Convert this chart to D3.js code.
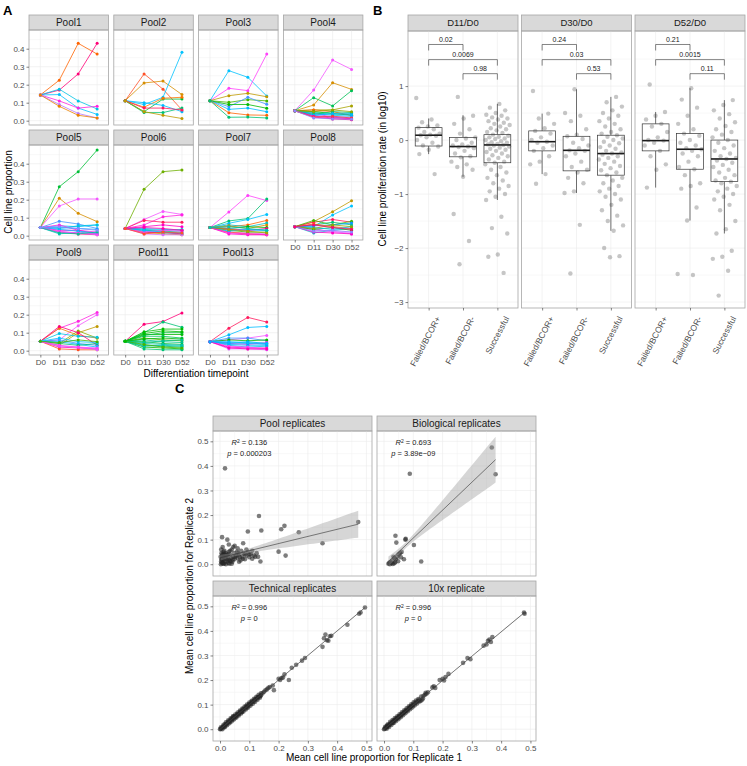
<!DOCTYPE html>
<html>
<head>
<meta charset="utf-8">
<script src="https://cdn.jsdelivr.net/npm/d3@7"></script>
<style>
body { margin: 0; background: #fff; }
text { font-family: "Liberation Sans", Arial, sans-serif; }
</style>
</head>
<body>
<svg id="fig" width="747" height="766"></svg>
<script>
// ---------- Panel A data: [cell line colour id, D0, D11, D30, D52]
const timepoints = ["D0", "D11", "D30", "D52"];
const poolNames = ["Pool1", "Pool2", "Pool3", "Pool4", "Pool5", "Pool6", "Pool7", "Pool8", "Pool9", "Pool11", "Pool13"];
const pool1 = [[4,.143,.225,.43,.37],[0,.143,.17,.26,.43],[21,.143,.175,.11,.065],[23,.143,.145,.07,.035],
  [36,.143,.11,.07,.08],[32,.143,.09,.04,.015],[6,.143,.08,.03,.015]];
const pool2 = [[3,.111,.26,.175,.06],[7,.111,.21,.22,.145],[22,.111,.09,.13,.38],[15,.111,.05,.12,.12],
  [17,.111,.045,.045,.07],[5,.111,.075,.125,.13],[24,.111,.1,.085,.05],[1,.111,.07,.07,.06],[8,.111,.05,.03,.012]];
const pool3 = [[22,.111,.278,.241,.137],[35,.111,.18,.167,.37],[8,.111,.139,.152,.133],[12,.111,.102,.117,.11],
  [30,.111,.078,.13,.091],[13,.111,.09,.09,.069],[25,.111,.063,.07,.05],[4,.111,.044,.032,.03],[17,.111,.019,.02,.015]];
const pool4 = [[34,.055,.17,.337,.285],[7,.055,.087,.211,.174],[16,.055,.128,.082,.167],[9,.055,.06,.06,.082],
  [4,.055,.06,.05,.03],[36,.055,.04,.02,.01],[13,.055,.05,.04,.03],[23,.055,.04,.03,.025],[30,.055,.03,.02,.02],
  [0,.055,.02,.01,.005],[20,.055,.045,.035,.04],[17,.055,.035,.05,.045],[26,.055,.03,.04,.035],
  [38,.055,.025,.015,.012],[10,.055,.05,.06,.05],[2,.055,.02,.025,.015],[31,.055,.015,.01,.008]];
const pool5 = [[15,.045,.272,.356,.476],[7,.045,.208,.124,.078],[34,.045,.165,.204,.204],[30,.045,.08,.065,.04],
  [23,.045,.055,.05,.06],[21,.045,.04,.055,.06],[36,.045,.06,.03,.02],[37,.045,.03,.03,.01],[0,.045,.02,.01,.005],
  [20,.045,.01,.02,.01],[28,.045,.045,.04,.035],[33,.045,.02,.015,.005],[24,.045,.035,.025,.015],
  [35,.045,.025,.015,.01],[18,.045,.015,.01,.02],[31,.045,.05,.04,.03]];
const pool6 = [[11,.04,.258,.356,.365],[34,.04,.09,.135,.118],[36,.04,.06,.105,.115],[1,.04,.085,.075,.075],
  [37,.04,.05,.06,.05],[22,.04,.04,.035,.03],[20,.04,.035,.03,.035],[17,.04,.03,.025,.02],[30,.04,.025,.015,.01],
  [8,.04,.02,.01,.005],[0,.04,.015,.02,.01],[33,.04,.01,.005,.005],[35,.04,.02,.03,.025],[25,.04,.03,.02,.015],
  [38,.04,.045,.04,.03],[3,.04,.01,.02,.015]];
const pool7 = [[35,.045,.132,.224,.195],[17,.045,.082,.095,.204],[22,.045,.069,.09,.118],[4,.045,.05,.06,.085],
  [20,.045,.06,.05,.07],[7,.045,.055,.04,.06],[13,.045,.04,.05,.045],[30,.045,.04,.03,.03],[34,.045,.02,.015,.01],
  [5,.045,.02,.01,.005],[12,.045,.03,.02,.02],[37,.045,.01,.005,.005],[0,.045,.035,.03,.04],[24,.045,.025,.035,.03],
  [36,.045,.015,.01,.005],[9,.045,.035,.025,.015],[19,.045,.05,.04,.03]];
const pool8 = [[8,.05,.078,.133,.194],[22,.05,.05,.115,.165],[1,.05,.075,.09,.075],[12,.05,.085,.06,.08],
  [17,.05,.06,.075,.06],[29,.05,.055,.06,.07],[20,.05,.015,.03,.04],[35,.05,.04,.02,.02],[33,.05,.03,.025,.01],
  [4,.05,.065,.05,.04],[14,.05,.035,.045,.03],[25,.05,.045,.035,.05],[37,.05,.02,.015,.01],[10,.05,.04,.06,.05],
  [31,.05,.025,.03,.02],[0,.05,.06,.045,.035]];
const pool9 = [[36,.052,.125,.163,.212],[34,.052,.06,.139,.2],[6,.052,.125,.085,.07],[8,.052,.03,.1,.135],
  [10,.052,.04,.11,.07],[21,.052,.095,.08,.075],[0,.052,.135,.1,.03],[30,.052,.06,.04,.03],[24,.052,.05,.035,.02],
  [37,.052,.02,.015,.01],[3,.052,.01,.005,.005],[17,.052,.04,.03,.04],[33,.052,.025,.02,.005],
  [35,.052,.03,.02,.015],[22,.052,.07,.05,.045],[12,.052,.045,.06,.05]];
const pool11 = [[0,.052,.147,.162,.21],[17,.052,.1,.16,.13],[14,.052,.105,.12,.12],[13,.052,.09,.09,.09],
  [16,.052,.08,.08,.07],[12,.052,.07,.06,.055],[18,.052,.06,.05,.045],[15,.052,.05,.04,.035],[19,.052,.04,.035,.03],
  [16,.052,.03,.025,.02],[14,.052,.02,.015,.01],[17,.052,.01,.005,.005],[13,.052,.065,.07,.065],
  [18,.052,.045,.055,.06],[15,.052,.085,.1,.1],[19,.052,.025,.03,.025],[12,.052,.035,.02,.015],[14,.052,.095,.11,.105]];
const pool13 = [[1,.05,.125,.185,.159],[24,.05,.088,.129,.135],[34,.05,.06,.07,.085],[30,.05,.07,.07,.055],
  [13,.05,.06,.055,.06],[36,.05,.04,.035,.045],[25,.05,.035,.03,.03],[21,.05,.03,.02,.025],[37,.05,.02,.015,.015],
  [33,.05,.01,.01,.005],[29,.05,.045,.04,.035],[35,.05,.025,.02,.01],[23,.05,.05,.045,.04],[38,.05,.015,.01,.01],
  [26,.05,.04,.05,.04]];
const poolLines = [pool1, pool2, pool3, pool4, pool5, pool6, pool7, pool8, pool9, pool11, pool13];

// ---------- Panel B data
const ratios = ["D11/D0", "D30/D0", "D52/D0"];
const groups = ["Failed/BCOR+", "Failed/BCOR-", "Successful"];
// box stats per ratio, per group
const boxQ1  = [[-0.11, -0.31, -0.42], [-0.20, -0.57, -0.65], [-0.20, -0.54, -0.77]];
const boxMed = [[0.09, -0.12, -0.09], [-0.03, -0.19, -0.25], [-0.01, -0.17, -0.35]];
const boxQ3  = [[0.23, 0.05, 0.10], [0.17, 0.07, 0.09], [0.30, 0.12, 0.00]];
const whiskLo = [[-0.26, -0.68, -1.11], [-0.63, -0.98, -1.68], [-0.88, -1.49, -1.73]];
const whiskHi = [[0.40, 0.46, 0.67], [0.49, 0.94, 0.80], [0.52, 0.96, 0.74]];
const d11Plus = [0.78,0.38,0.33,0.27,0.25,0.23,0.2,0.15,0.12,0.1,0.09,0.08,0.05,0,-0.05,-0.1,-0.12,-0.18,-0.26,-0.63];
const d11Minus = [0.8,0.45,0.4,0.3,0.2,0.12,0.05,0.03,0,-0.05,-0.08,-0.1,-0.12,-0.13,-0.15,-0.2,-0.25,-0.3,-0.32,-0.4,
  -0.45,-0.5,-0.55,-0.68,-1.37,-1.87,-2.3];
const d11Succ = [0.67,0.6,0.55,0.5,0.47,0.45,0.42,0.4,0.38,0.35,0.32,0.3,0.28,0.25,0.22,0.2,0.18,0.15,0.13,0.1,0.08,
  0.06,0.05,0.03,0.02,0,-0.02,-0.04,-0.05,-0.07,-0.08,-0.09,-0.1,-0.12,-0.14,-0.16,-0.18,-0.2,-0.22,-0.25,-0.28,-0.3,
  -0.33,-0.36,-0.4,-0.42,-0.45,-0.5,-0.55,-0.6,-0.65,-0.7,-0.75,-0.8,-0.85,-0.9,-0.95,-1,-1.05,-1.11,-1.42,-1.63,-1.73,
  -2.12,-2.16,-2.46];
const d30Plus = [0.91,0.49,0.4,0.3,0.22,0.17,0.12,0.05,0,-0.03,-0.05,-0.1,-0.15,-0.2,-0.3,-0.4,-0.45,-0.63,-0.81];
const d30Minus = [0.94,0.5,0.45,0.35,0.2,0.1,0.07,0.02,-0.05,-0.1,-0.15,-0.19,-0.2,-0.25,-0.3,-0.4,-0.5,-0.55,-0.6,
  -0.7,-0.8,-0.95,-0.98,-1.57,-2.47];
const d30Succ = [0.8,0.7,0.62,0.55,0.5,0.45,0.4,0.35,0.3,0.25,0.2,0.15,0.12,0.09,0.06,0.03,0,-0.03,-0.06,-0.1,-0.13,
  -0.16,-0.2,-0.23,-0.25,-0.27,-0.3,-0.33,-0.36,-0.4,-0.44,-0.48,-0.52,-0.56,-0.6,-0.65,-0.7,-0.75,-0.8,-0.85,-0.9,
  -0.95,-1,-1.05,-1.1,-1.2,-1.3,-1.4,-1.5,-1.58,-1.68,-2,-2.15,-2.17];
const d52Plus = [1.03,0.52,0.45,0.38,0.3,0.25,0.15,0.05,0,-0.01,-0.05,-0.1,-0.2,-0.3,-0.45,-0.55,-0.88];
const d52Minus = [0.96,0.75,0.6,0.45,0.3,0.2,0.12,0.08,0,-0.05,-0.1,-0.15,-0.17,-0.2,-0.25,-0.3,-0.4,-0.5,-0.54,
  -0.65,-0.8,-0.85,-0.9,-1.25,-1.49,-2.48,-2.5];
const d52Succ = [0.74,0.65,0.55,0.48,0.4,0.33,0.26,0.2,0.15,0.1,0.05,0,-0.05,-0.1,-0.15,-0.2,-0.25,-0.3,-0.33,-0.35,
  -0.38,-0.42,-0.46,-0.5,-0.55,-0.6,-0.65,-0.7,-0.75,-0.77,-0.8,-0.85,-0.9,-0.95,-1,-1.05,-1.1,-1.2,-1.3,-1.5,-1.65,
  -1.73,-2.05,-2.16,-2.2,-2.42,-2.88];
const ratioPoints = [[d11Plus, d11Minus, d11Succ], [d30Plus, d30Minus, d30Succ], [d52Plus, d52Minus, d52Succ]];
const compPairs = [[0, 1], [0, 2], [1, 2]];
const compY = [1.77, 1.49, 1.23];
const compLabels = [["0.02", "0.0069", "0.98"], ["0.24", "0.03", "0.53"], ["0.21", "0.0015", "0.11"]];

// ---------- Panel C data: [replicate 1, replicate 2]
const repNames = ["Pool replicates", "Biological replicates", "Technical replicates", "10x replicate"];
const poolRep = [[0.017,0.39],[0.133,0.196],[0.095,0.133],[0.141,0.137],[0.209,0.142],[0.22,0.156],[0.269,0.13],
  [0.472,0.172],[0.007,0.11],[0.35,0.085],[0.2,0.051],[0.224,0.035],[0.138,0.011],[0.079,0.085],[0.002,0.03],
  [0.005,0.02],[0.008,0.04],[0.01,0.005],[0.012,0.025],[0.015,0.035],[0.018,0.01],[0.02,0.045],[0.022,0.02],
  [0.025,0.03],[0.028,0.005],[0.03,0.05],[0.033,0.015],[0.035,0.038],[0.038,0.025],[0.04,0.06],[0.042,0.01],
  [0.045,0.03],[0.048,0.045],[0.05,0.02],[0.055,0.035],[0.058,0.05],[0.06,0.025],[0.065,0.04],[0.07,0.015],
  [0.072,0.055],[0.075,0.03],[0.08,0.045],[0.085,0.02],[0.09,0.035],[0.095,0.05],[0.1,0.028],[0.105,0.04],
  [0.11,0.022],[0.12,0.03],[0.003,0],[0.006,0.008],[0.01,0.015],[0.014,0.003],[0.02,0],[0.026,0.012],[0.032,0.002],
  [0.004,0.06],[0.009,0.07],[0.015,0.055],[0.03,0.08],[0.045,0.07],[0.06,0.065],[0.025,0.1],[0.05,0.075],
  [0.11,0.055],[0.125,0.045],[0.09,0.06],[0.065,0.01],[0.04,0.002],[0.01,0.03],[0.018,0.028],[0.007,0.018],
  [0.005,0.045],[0.012,0.05],[0.02,0.035],[0.028,0.04],[0.035,0.055],[0.008,0.025],[0.016,0.022],[0.024,0.038],
  [0.012,0.002],[0.03,0.02],[0.036,0.012],[0.044,0.018],[0.052,0.03],[0.062,0.045],[0.068,0.028],[0.078,0.022],
  [0.085,0.04],[0.1,0.04],[0.115,0.035],[0.13,0.03],[0.004,0.012],[0.007,0.004],[0.009,0.035],[0.013,0.042]];
const bioRep = [[0.368,0.475],[0.381,0.366],[0.088,0.368],[0.039,0.116],[0.074,0.103],[0.042,0.088],[0.102,0.078],
  [0.073,0.1],[0.127,0.011],[0.068,0.02],[0.015,0.002],[0.02,0],[0.025,0.005],[0.03,0.001],[0.035,0.004],
  [0.022,0.01],[0.028,0.015],[0.04,0.02],[0.045,0.03],[0.05,0.04],[0.055,0.045],[0.06,0.05],[0.035,0.025],
  [0.048,0.012],[0.018,0.006],[0.032,0.03],[0.038,0.008],[0.058,0.028]];
const techRep = [[0,0],[0.002,0.001],[0.005,0.004],[0.008,0.006],[0.01,0.011],[0.012,0.01],[0.015,0.014],[0.018,0.02],
  [0.02,0.021],[0.022,0.019],[0.025,0.024],[0.028,0.03],[0.03,0.031],[0.032,0.029],[0.035,0.033],[0.038,0.04],
  [0.04,0.042],[0.042,0.039],[0.045,0.044],[0.048,0.05],[0.05,0.052],[0.052,0.049],[0.055,0.053],[0.058,0.06],
  [0.06,0.062],[0.062,0.06],[0.065,0.063],[0.068,0.07],[0.07,0.072],[0.072,0.069],[0.075,0.073],[0.078,0.08],
  [0.08,0.082],[0.085,0.083],[0.088,0.09],[0.09,0.093],[0.092,0.089],[0.095,0.094],[0.098,0.1],[0.1,0.102],
  [0.105,0.103],[0.108,0.11],[0.11,0.113],[0.115,0.112],[0.118,0.12],[0.12,0.122],[0.125,0.124],[0.128,0.13],
  [0.13,0.131],[0.135,0.133],[0.138,0.135],[0.14,0.138],[0.145,0.146],[0.15,0.152],[0.155,0.158],[0.16,0.162],
  [0.165,0.168],[0.17,0.172],[0.18,0.178],[0.184,0.159],[0.2,0.205],[0.205,0.2],[0.21,0.208],[0.215,0.21],
  [0.22,0.223],[0.235,0.2],[0.245,0.25],[0.26,0.262],[0.28,0.279],[0.29,0.29],[0.35,0.335],[0.355,0.37],
  [0.36,0.385],[0.365,0.362],[0.37,0.36],[0.375,0.378],[0.38,0.38],[0.435,0.425],[0.475,0.47],[0.48,0.475],
  [0.495,0.495],[0.003,0.008],[0.008,0],[0.012,0.018],[0.016,0.008],[0.02,0.028],[0.024,0.016],[0.028,0.036],
  [0.032,0.024],[0.036,0.044],[0.04,0.032],[0.044,0.052],[0.048,0.04],[0.052,0.06],[0.056,0.048],[0.06,0.068],
  [0.064,0.056],[0.068,0.076],[0.072,0.064],[0.076,0.084],[0.08,0.072],[0.084,0.092],[0.088,0.08],[0.092,0.1],
  [0.096,0.088],[0.1,0.108],[0.104,0.096],[0.108,0.116],[0.112,0.104],[0.116,0.124],[0.12,0.112],[0.124,0.132],
  [0.128,0.12],[0.132,0.14],[0.136,0.128],[0.14,0.146],[0.015,0.01],[0.045,0.05],[0.075,0.07]];
const tenxRep = [[0,0],[0.002,0.002],[0.005,0.006],[0.008,0.007],[0.01,0.01],[0.012,0.013],[0.015,0.015],[0.018,0.017],
  [0.02,0.02],[0.022,0.023],[0.025,0.025],[0.028,0.027],[0.03,0.03],[0.032,0.033],[0.035,0.035],[0.038,0.037],
  [0.04,0.04],[0.042,0.043],[0.045,0.045],[0.048,0.047],[0.05,0.05],[0.052,0.053],[0.055,0.055],[0.058,0.057],
  [0.06,0.06],[0.062,0.063],[0.065,0.065],[0.068,0.067],[0.07,0.07],[0.072,0.073],[0.075,0.075],[0.078,0.077],
  [0.08,0.08],[0.085,0.086],[0.088,0.087],[0.09,0.09],[0.092,0.093],[0.095,0.095],[0.098,0.097],[0.1,0.1],
  [0.105,0.106],[0.11,0.11],[0.115,0.114],[0.12,0.12],[0.125,0.115],[0.13,0.12],[0.135,0.136],[0.14,0.14],
  [0.145,0.144],[0.15,0.15],[0.165,0.17],[0.17,0.175],[0.175,0.168],[0.19,0.2],[0.2,0.205],[0.205,0.198],
  [0.21,0.212],[0.22,0.225],[0.27,0.27],[0.285,0.29],[0.295,0.285],[0.34,0.34],[0.35,0.345],[0.355,0.36],
  [0.36,0.365],[0.365,0.355],[0.37,0.375],[0.48,0.47],[0.478,0.475],[0.004,0.01],[0.009,0.002],[0.013,0.02],
  [0.017,0.009],[0.021,0.03],[0.025,0.017],[0.029,0.037],[0.033,0.025],[0.037,0.045],[0.041,0.033],[0.045,0.053],
  [0.049,0.041],[0.053,0.061],[0.057,0.049],[0.061,0.069],[0.065,0.057],[0.069,0.077],[0.073,0.065],[0.077,0.085],
  [0.081,0.073],[0.085,0.093],[0.089,0.081],[0.093,0.101],[0.097,0.089],[0.101,0.109],[0.105,0.097],[0.109,0.117],
  [0.113,0.105],[0.117,0.123],[0.121,0.113],[0.127,0.133],[0.133,0.125],[0.142,0.148],[0.01,0.015],[0.03,0.025]];
const repPoints = [poolRep, bioRep, techRep, tenxRep];
const fitIntercept = [0.026, -0.007, 0, 0];
const fitSlope = [0.29, 1.135, 1.0, 0.99];
const fitSe0 = [0.008, 0.012, 0.001, 0.001];
const fitSeSlope = [0.133, 0.3, 0.004, 0.004];
const rsqLabels = ["0.136", "0.693", "0.996", "0.996"];
const pLabels = ["0.000203", "3.89e\u221209", "0", "0"];

// ---------- helpers
const svg = d3.select("#fig");
const gridMajor = "#ebebeb", gridMinor = "#f4f4f4", borderCol = "#a6a6a6", stripFill = "#d9d9d9", tickCol = "#4d4d4d";
const hue = k => d3.hcl(15 + 360 * k / 40, 100, 65).formatHex();

function drawStrip(x, y, w, h, label, fs) {
  svg.append("rect").attr("x", x).attr("y", y).attr("width", w).attr("height", h)
    .attr("fill", stripFill).attr("stroke", borderCol).attr("stroke-width", 0.8);
  svg.append("text").attr("x", x + w / 2).attr("y", y + h / 2).attr("dy", "0.35em")
    .attr("text-anchor", "middle").attr("font-size", fs).attr("fill", "#1a1a1a").text(label);
}
function hLines(g, w, ys, col) {
  ys.forEach(y => g.append("line").attr("x1", 0).attr("x2", w).attr("y1", y).attr("y2", y)
    .attr("stroke", col).attr("stroke-width", 0.6));
}
function vLines(g, h, xs, col) {
  xs.forEach(x => g.append("line").attr("x1", x).attr("x2", x).attr("y1", 0).attr("y2", h)
    .attr("stroke", col).attr("stroke-width", 0.6));
}
function border(g, w, h) {
  g.append("rect").attr("width", w).attr("height", h).attr("fill", "none")
    .attr("stroke", borderCol).attr("stroke-width", 0.8);
}
function styleAxis(a) {
  a.attr("font-family", null).attr("font-size", null);
  a.select(".domain").remove();
  a.selectAll(".tick line").attr("stroke", "#333").attr("stroke-width", 0.6);
  a.selectAll(".tick text").attr("fill", tickCol).attr("font-size", 8);
}
function panelLabel(x, y, t) {
  svg.append("text").attr("x", x).attr("y", y).attr("font-size", 13).attr("font-weight", "bold").text(t);
}

// ---------- Panel A
panelLabel(3, 15, "A");
const aX0 = 29, aStep = 84.8, aW = 79.5, aStripH = 15, aPlotH = 95, aRowTop = [15, 130, 245];
const yA = d3.scaleLinear().domain([-0.024, 0.504]).range([aPlotH, 0]);
const xA = d3.scalePoint().domain(timepoints).range([0, aW]).padding(0.6);
const lineA = d3.line().x((d, j) => xA(timepoints[j])).y(d => yA(d));

poolNames.forEach((name, i) => {
  const col = i % 4, row = Math.floor(i / 4);
  const gx = aX0 + col * aStep, gy = aRowTop[row] + aStripH;
  drawStrip(gx, aRowTop[row], aW, aStripH, name, 10);
  const g = svg.append("g").attr("transform", `translate(${gx},${gy})`);
  hLines(g, aW, [0.05, 0.15, 0.25, 0.35, 0.45].map(yA), gridMinor);
  hLines(g, aW, [0, 0.1, 0.2, 0.3, 0.4].map(yA), gridMajor);
  vLines(g, aPlotH, timepoints.map(xA), gridMajor);
  poolLines[i].forEach(r => {
    const vals = r.slice(1);
    g.append("path").attr("d", lineA(vals)).attr("fill", "none")
      .attr("stroke", hue(r[0])).attr("stroke-width", 0.8);
    g.selectAll(null).data(vals).join("circle")
      .attr("cx", (d, j) => xA(timepoints[j])).attr("cy", d => yA(d)).attr("r", 1.5)
      .attr("fill", hue(r[0]));
  });
  border(g, aW, aPlotH);
  if (col === 0) {
    const ax = g.append("g").call(d3.axisLeft(yA).tickValues([0, 0.1, 0.2, 0.3, 0.4])
      .tickFormat(d3.format(".1f")).tickSize(2.5).tickPadding(2));
    styleAxis(ax);
  }
  if (row === 2 || i === 7) {
    const ax = g.append("g").attr("transform", `translate(0,${aPlotH})`)
      .call(d3.axisBottom(xA).tickSize(2.5).tickPadding(2));
    styleAxis(ax);
  }
});
svg.append("text").attr("x", 196).attr("y", 377).attr("text-anchor", "middle").attr("font-size", 10)
  .text("Differentiation timepoint");
svg.append("text").attr("transform", "translate(12,192) rotate(-90)").attr("text-anchor", "middle")
  .attr("font-size", 10).text("Cell line proportion");

// ---------- Panel B
panelLabel(373, 15, "B");
const bX0 = 408, bStep = 113.5, bW = 110, bStripTop = 15, bStripH = 16, bPlotH = 277;
const yB = d3.scaleLinear().domain([-3.11, 2.02]).range([bPlotH, 0]);
const xB = d3.scalePoint().domain(groups).range([0, bW]).padding(0.6);
const bUnit = bW / 3.2;
ratios.forEach((name, i) => {
  const gx = bX0 + i * bStep, gy = bStripTop + bStripH;
  drawStrip(gx, bStripTop, bW, bStripH, name, 9.5);
  const g = svg.append("g").attr("transform", `translate(${gx},${gy})`);
  hLines(g, bW, [-2.5, -1.5, -0.5, 0.5, 1.5].map(yB), gridMinor);
  hLines(g, bW, [-3, -2, -1, 0, 1].map(yB), gridMajor);
  vLines(g, bPlotH, groups.map(xB), gridMajor);
  groups.forEach((grp, k) => {
    const cx = xB(grp), hw = 0.39 * bUnit;
    g.append("line").attr("x1", cx).attr("x2", cx).attr("y1", yB(whiskHi[i][k])).attr("y2", yB(boxQ3[i][k]))
      .attr("stroke", "#333").attr("stroke-width", 0.7);
    g.append("line").attr("x1", cx).attr("x2", cx).attr("y1", yB(boxQ1[i][k])).attr("y2", yB(whiskLo[i][k]))
      .attr("stroke", "#333").attr("stroke-width", 0.7);
    g.append("rect").attr("x", cx - hw).attr("width", 2 * hw)
      .attr("y", yB(boxQ3[i][k])).attr("height", yB(boxQ1[i][k]) - yB(boxQ3[i][k]))
      .attr("fill", "#fff").attr("stroke", "#333").attr("stroke-width", 0.7);
    g.append("line").attr("x1", cx - hw).attr("x2", cx + hw).attr("y1", yB(boxMed[i][k])).attr("y2", yB(boxMed[i][k]))
      .attr("stroke", "#1a1a1a").attr("stroke-width", 1.6);
    g.selectAll(null).data(ratioPoints[i][k]).join("circle")
      .attr("cx", (d, j) => cx + (((j * 0.6180339887 + i * 0.13 + k * 0.29) % 1) - 0.5) * 0.72 * bUnit)
      .attr("cy", d => yB(d)).attr("r", 2.2).attr("fill", "#333").attr("fill-opacity", 0.28);
  });
  compPairs.forEach((p, c) => {
    const x1 = xB(groups[p[0]]), x2 = xB(groups[p[1]]), yy = yB(compY[c]);
    g.append("path").attr("d", `M${x1},${yy + 6}V${yy}H${x2}V${yy + 6}`)
      .attr("fill", "none").attr("stroke", "#333").attr("stroke-width", 0.6);
    g.append("text").attr("x", (x1 + x2) / 2).attr("y", yy - 2.5).attr("text-anchor", "middle")
      .attr("font-size", 7).attr("fill", "#1a1a1a").text(compLabels[i][c]);
  });
  border(g, bW, bPlotH);
  if (i === 0) {
    const ax = g.append("g").call(d3.axisLeft(yB).tickValues([-3, -2, -1, 0, 1])
      .tickFormat(d3.format("d")).tickSize(2.5).tickPadding(2));
    styleAxis(ax);
  }
  const ax = g.append("g").attr("transform", `translate(0,${bPlotH})`)
    .call(d3.axisBottom(xB).tickSize(2.5).tickPadding(2));
  styleAxis(ax);
  ax.selectAll(".tick text").attr("text-anchor", "end").attr("dy", "0.35em")
    .attr("transform", "translate(9,9) rotate(-62)").attr("y", 0).attr("x", 0).attr("font-size", 8.5);
});
svg.append("text").attr("transform", "translate(386,169) rotate(-90)").attr("text-anchor", "middle")
  .attr("font-size", 10).text("Cell line proliferation rate (in log10)");

// ---------- Panel C
panelLabel(175, 393, "C");
const cX0 = [213, 377], cW = 159, cRowTop = [416, 581], cStripH = 15, cPlotH = 145;
const xC = d3.scaleLinear().domain([-0.024, 0.519]).range([0, cW]);
const yC = d3.scaleLinear().domain([-0.048, 0.542]).range([cPlotH, 0]);
const ticksC = [0, 0.1, 0.2, 0.3, 0.4, 0.5], minorC = [0.05, 0.15, 0.25, 0.35, 0.45];
repNames.forEach((name, i) => {
  const col = i % 2, row = Math.floor(i / 2);
  const gx = cX0[col], gy = cRowTop[row] + cStripH;
  drawStrip(gx, cRowTop[row], cW, cStripH, name, 10);
  const g = svg.append("g").attr("transform", `translate(${gx},${gy})`);
  hLines(g, cW, minorC.map(yC), gridMinor);
  vLines(g, cPlotH, minorC.map(xC), gridMinor);
  hLines(g, cW, ticksC.map(yC), gridMajor);
  vLines(g, cPlotH, ticksC.map(xC), gridMajor);
  const pts = repPoints[i];
  g.selectAll(null).data(pts).join("circle")
    .attr("cx", d => xC(d[0])).attr("cy", d => yC(d[1])).attr("r", 2.3)
    .attr("fill", "#262626").attr("fill-opacity", 0.6);
  const ext = d3.extent(pts, d => d[0]);
  const xbar = d3.mean(pts, d => d[0]);
  const xs = d3.range(41).map(s => ext[0] + (ext[1] - ext[0]) * s / 40);
  const fit = x => fitIntercept[i] + fitSlope[i] * x;
  const half = x => Math.sqrt(fitSe0[i] ** 2 + (fitSeSlope[i] * (x - xbar)) ** 2);
  g.append("path").datum(xs)
    .attr("d", d3.area().x(x => xC(x)).y0(x => yC(fit(x) - half(x))).y1(x => yC(fit(x) + half(x))))
    .attr("fill", "#999").attr("fill-opacity", 0.4);
  g.append("line").attr("x1", xC(ext[0])).attr("y1", yC(fit(ext[0])))
    .attr("x2", xC(ext[1])).attr("y2", yC(fit(ext[1])))
    .attr("stroke", "#333").attr("stroke-width", 0.6);
  const t1 = g.append("text").attr("x", xC(0.1)).attr("y", yC(0.495)).attr("dy", "0.35em")
    .attr("text-anchor", "middle").attr("font-size", 7.5).attr("fill", "#1a1a1a");
  t1.append("tspan").attr("font-style", "italic").text("R");
  t1.append("tspan").attr("font-size", 5).attr("dy", "-0.5em").text("2");
  t1.append("tspan").attr("dy", "0.35em").text(" = " + rsqLabels[i]);
  const t2 = g.append("text").attr("x", xC(0.1)).attr("y", yC(0.452)).attr("dy", "0.35em")
    .attr("text-anchor", "middle").attr("font-size", 7.5).attr("fill", "#1a1a1a");
  t2.append("tspan").attr("font-style", "italic").text("p");
  t2.append("tspan").text(" = " + pLabels[i]);
  border(g, cW, cPlotH);
  if (col === 0) {
    const ax = g.append("g").call(d3.axisLeft(yC).tickValues(ticksC).tickFormat(d3.format(".1f"))
      .tickSize(2.5).tickPadding(2));
    styleAxis(ax);
  }
  if (row === 1) {
    const ax = g.append("g").attr("transform", `translate(0,${cPlotH})`)
      .call(d3.axisBottom(xC).tickValues(ticksC).tickFormat(d3.format(".1f")).tickSize(2.5).tickPadding(2));
    styleAxis(ax);
  }
});
svg.append("text").attr("x", 374).attr("y", 761).attr("text-anchor", "middle").attr("font-size", 10)
  .text("Mean cell line proportion for Replicate 1");
svg.append("text").attr("transform", "translate(193,586) rotate(-90)").attr("text-anchor", "middle")
  .attr("font-size", 10).text("Mean cell line proportion for Replicate 2");
</script>
</body>
</html>
